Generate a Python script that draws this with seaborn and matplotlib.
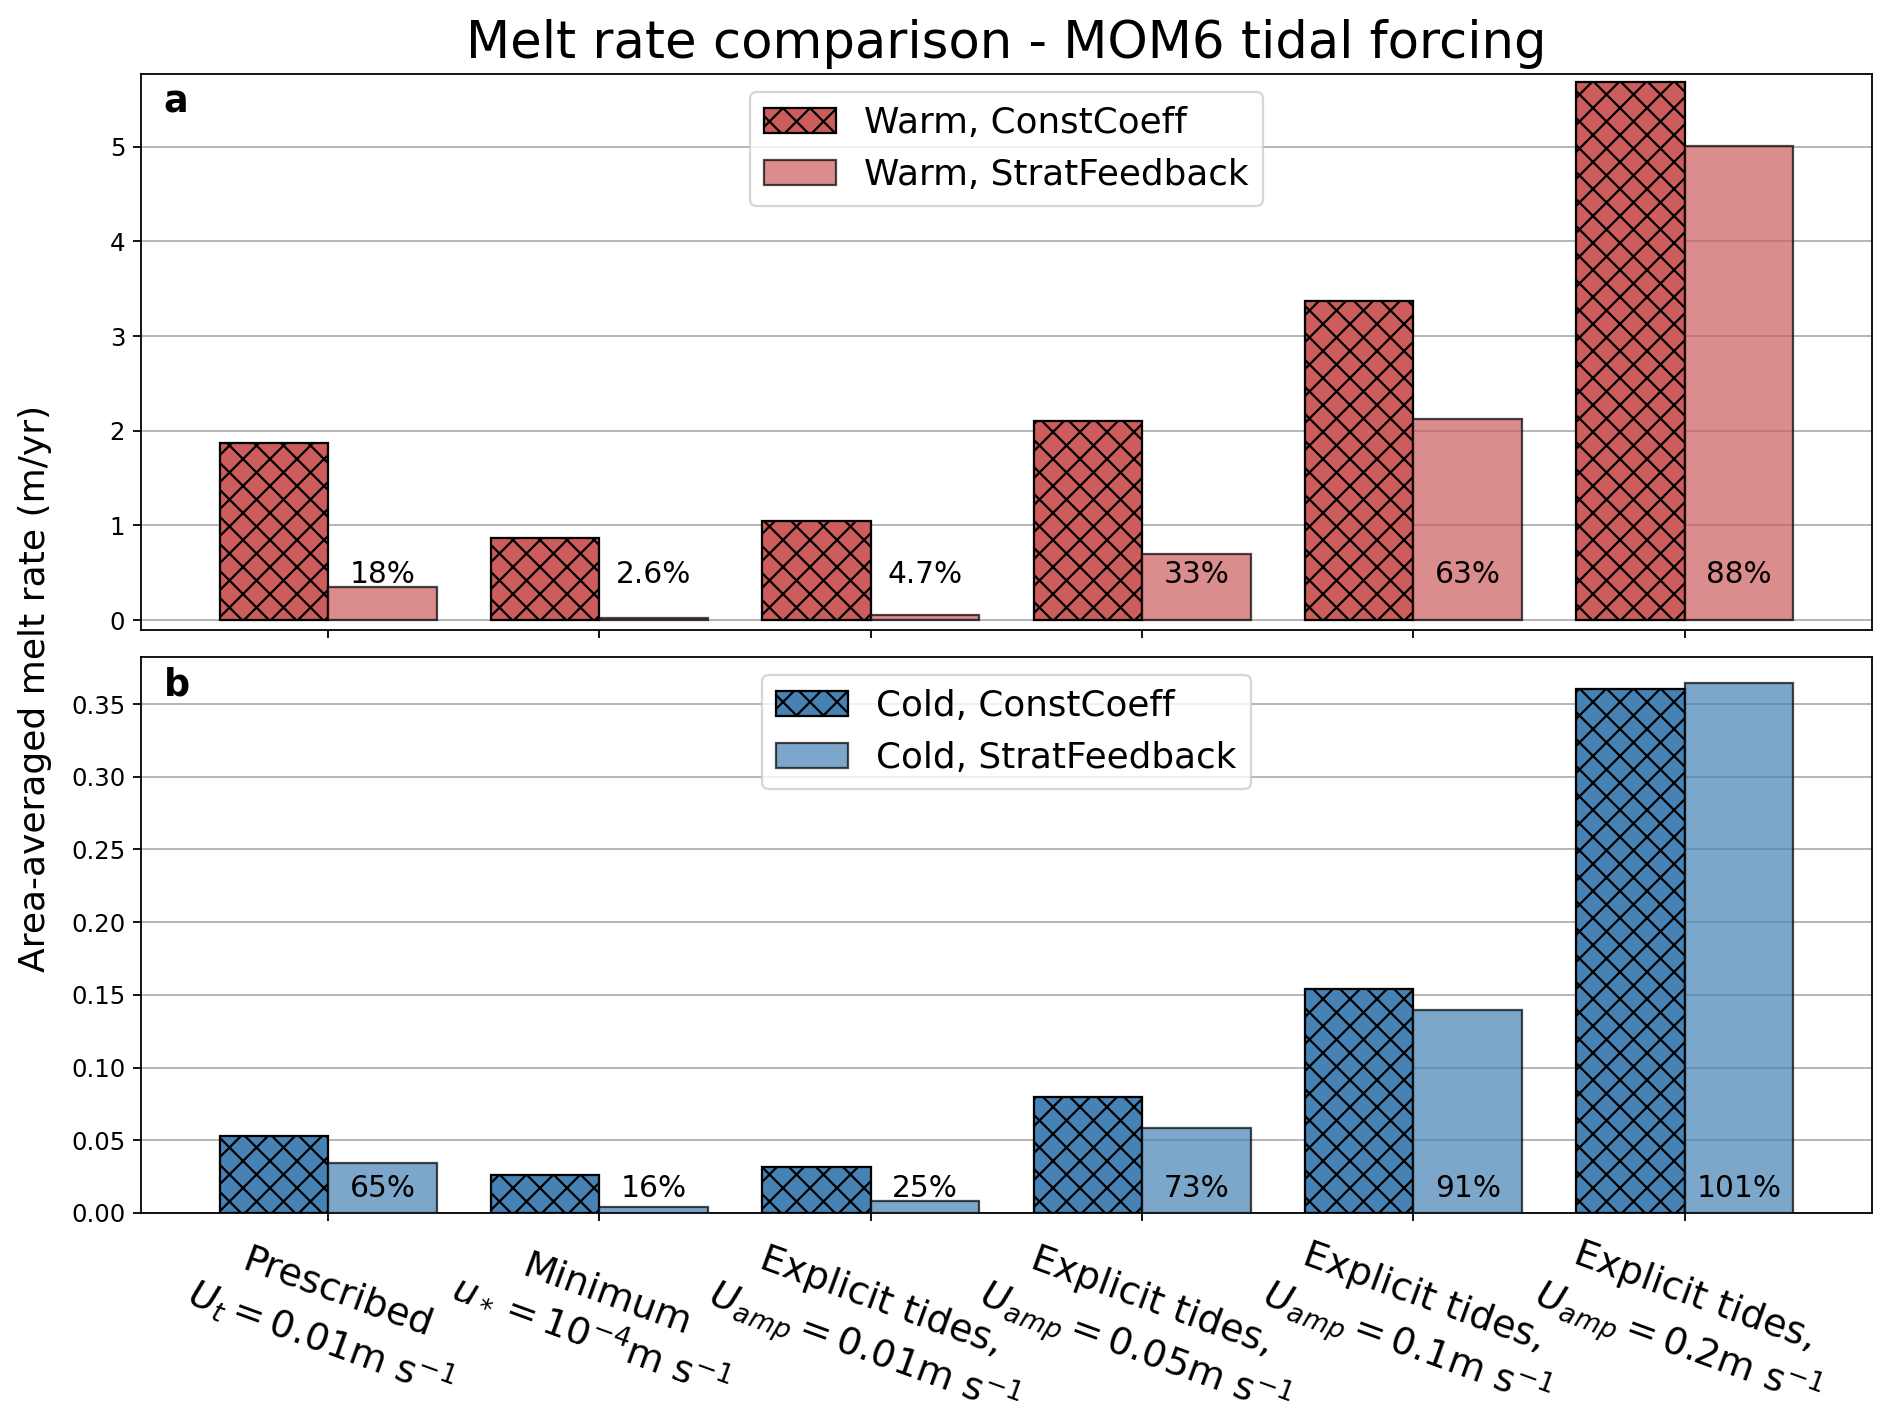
import matplotlib
matplotlib.use("Agg")
import numpy as np
import pandas as pd
import matplotlib.pyplot as plt
import seaborn as sns

# output is 1892x1420 px
DPI = 162
FIGSIZE = (1892 / DPI, 1420 / DPI)

schemes = [
    "Prescribed\n$U_t = 0.01$m s$^{-1}$",
    "Minimum\n$u_* = 10^{-4}$m s$^{-1}$",
    "Explicit tides,\n$U_{amp} = 0.01$m s$^{-1}$",
    "Explicit tides,\n$U_{amp} = 0.05$m s$^{-1}$",
    "Explicit tides,\n$U_{amp} = 0.1$m s$^{-1}$",
    "Explicit tides,\n$U_{amp} = 0.2$m s$^{-1}$",
]

# area-averaged melt rate (m/yr)
warm_const = [1.866, 0.865, 1.05, 2.105, 3.37, 5.68]
warm_strat = [0.344, 0.023, 0.050, 0.70, 2.12, 5.01]
cold_const = [0.0526, 0.026, 0.0316, 0.0795, 0.154, 0.3603]
cold_strat = [0.0345, 0.0042, 0.0080, 0.0584, 0.1395, 0.3642]

# StratFeedback as percentage of ConstCoeff
warm_pct = ["18%", "2.6%", "4.7%", "33%", "63%", "88%"]
cold_pct = ["65%", "16%", "25%", "73%", "91%", "101%"]

warm_names = ["Warm, ConstCoeff", "Warm, StratFeedback"]
cold_names = ["Cold, ConstCoeff", "Cold, StratFeedback"]


def pt(px):
    """pixel size -> points at the figure dpi"""
    return px * 72.0 / DPI


def draw_panel(ax, const, strat, pct, names, color, letter, label_y, ylim):
    df = pd.DataFrame({
        "scheme": list(range(len(const))) * 2,
        "melt": list(const) + list(strat),
        "run": [names[0]] * len(const) + [names[1]] * len(strat),
    })
    sns.barplot(data=df, x="scheme", y="melt", hue="run", hue_order=names,
                palette=[color, color], saturation=1, errorbar=None,
                edgecolor="black", linewidth=1.0, legend=False, ax=ax,
                zorder=3)
    n = len(const)
    bars = ax.patches
    for p in bars[:n]:
        p.set_hatch("xx")
        p.set_edgecolor("black")
    for p in bars[n:2 * n]:
        p.set_alpha(0.7)
        p.set_edgecolor("black")

    for i, txt in enumerate(pct):
        ax.text(i + 0.2, label_y, txt, ha="center", va="baseline",
                fontsize=pt(29.7), zorder=4)

    ax.set_axisbelow(True)
    ax.grid(axis="y", color="#b0b0b0", linewidth=0.8)
    ax.xaxis.grid(False)
    ax.set_xlim(-0.69, 5.69)
    ax.set_ylim(*ylim)
    ax.set_xlabel("")
    ax.set_ylabel("")
    ax.tick_params(axis="y", labelsize=pt(24.4))
    ax.text(0.013, 0.982, letter, transform=ax.transAxes, ha="left", va="top",
            fontsize=pt(36.5), fontweight="bold")
    ax.legend(handles=[bars[0], bars[n]], labels=names, loc="upper center",
              fontsize=pt(35.8))


fig, (ax_a, ax_b) = plt.subplots(2, 1, sharex=True, figsize=FIGSIZE, dpi=DPI)
fig.subplots_adjust(left=0.0745, right=0.9894, top=0.9479, bottom=0.1458,
                    hspace=0.0486)

draw_panel(ax_a, warm_const, warm_strat, warm_pct, warm_names, "indianred",
           "a", 0.395, (-0.105, 5.77))
draw_panel(ax_b, cold_const, cold_strat, cold_pct, cold_names, "steelblue",
           "b", 0.011, (0.0, 0.3824))

ax_a.tick_params(axis="x", labelbottom=False)
ax_b.set_xticks(range(len(schemes)))
ax_b.set_xticklabels(schemes, rotation=-20, ha="center", fontsize=pt(38))

ax_a.set_title("Melt rate comparison - MOM6 tidal forcing",
               fontsize=pt(51.3), pad=7)
fig.text(0.0095, 0.515, "Area-averaged melt rate (m/yr)", rotation=90,
         ha="left", va="center", fontsize=pt(36.2))

fig.savefig("out.png", dpi=DPI)
